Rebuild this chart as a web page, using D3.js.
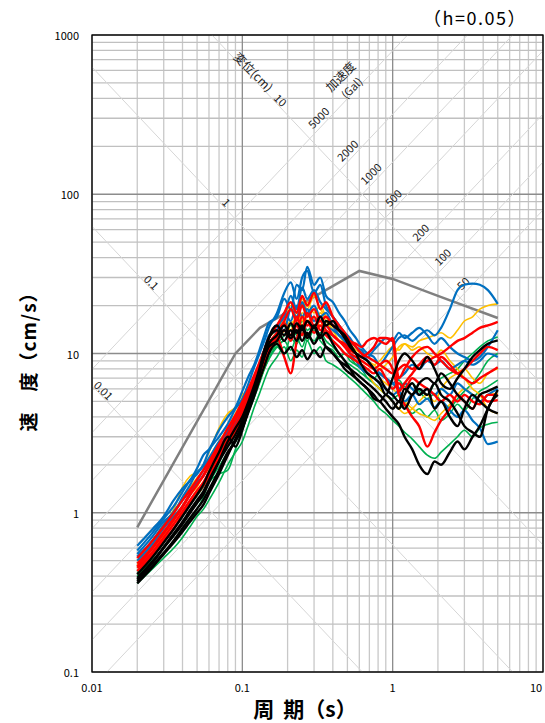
<!DOCTYPE html>
<html><head><meta charset="utf-8">
<script src="https://cdn.jsdelivr.net/npm/d3@7"></script>
<style>body{margin:0;background:#fff;}svg{display:block;font-family:"Noto Sans CJK JP","Noto Sans",sans-serif;}</style>
</head><body><svg id="c" width="545" height="723"></svg>
<script>
// ---------- data ----------
const periods=[0.02,0.025,0.03,0.035,0.04,0.045,0.05,0.055,0.06,0.07,
0.08,0.09,0.1,0.11,0.12,0.13,0.14,0.15,0.17,0.19,
0.21,0.23,0.25,0.27,0.3,0.33,0.36,0.4,0.44,0.48,
0.52,0.57,0.62,0.68,0.75,0.82,0.9,1.0,1.1,1.2,
1.35,1.5,1.7,1.9,2.1,2.4,2.7,3.0,3.4,3.8,
4.3,5.0];

const blue1=[0.62,0.78,0.95,1.20,1.42,1.60,1.90,2.30,2.50,3.30,
4.00,4.60,5.80,7.20,8.50,10.5,13.0,15.5,17.0,22.0,
19.0,27.0,25.0,35.0,27.0,30.0,23.0,21.0,18.0,16.0,
14.0,12.5,11.0,10.0,9.5,8.5,9.5,11.0,12.5,13.0,
12.0,13.0,14.0,13.0,14.5,19.0,25.0,27.0,27.5,27.0,
25.0,20.5];
const blue2=[0.58,0.74,0.92,1.10,1.35,1.60,1.75,2.00,2.45,3.00,
3.60,4.50,5.20,6.50,8.20,10.0,12.0,14.5,18.0,24.0,
28.0,22.0,30.0,33.0,24.0,27.0,20.0,17.0,15.0,13.5,
12.5,11.0,10.5,9.5,10.5,11.5,12.5,12.0,13.5,12.5,
13.5,14.5,13.0,11.5,12.5,11.0,10.0,9.5,9.0,9.5,
11.0,14.0];
const blue3=[0.53,0.66,0.84,1.02,1.20,1.38,1.60,1.85,2.10,2.70,
3.30,4.00,4.80,5.80,7.00,8.50,10.5,12.5,15.0,14.0,
19.0,17.0,21.0,18.0,20.0,17.0,18.0,15.0,13.0,12.0,
11.0,10.0,9.5,9.0,8.0,7.5,7.0,6.5,7.0,7.5,
8.5,8.0,9.0,8.5,9.0,8.0,8.5,9.0,8.5,9.0,
10.0,9.5];
const blue4=[0.55,0.70,0.88,1.00,1.25,1.50,1.80,1.95,2.20,2.80,
3.20,3.90,4.50,5.60,7.00,8.60,10.5,13.0,14.0,18.0,
16.0,20.0,17.0,19.0,16.0,17.0,15.0,14.0,13.0,12.0,
10.0,9.0,8.0,7.5,7.0,6.5,6.0,5.5,5.8,5.0,
5.5,4.8,5.2,4.6,5.0,4.4,4.0,4.4,3.8,3.4,
2.7,2.8];
const blue5=[0.50,0.63,0.80,0.95,1.10,1.30,1.55,1.70,2.00,2.55,
3.10,3.60,4.40,5.40,6.80,8.50,10.5,12.5,15.0,17.0,
23.0,19.0,26.0,22.0,25.0,21.0,19.0,17.0,15.0,13.0,
12.0,11.0,10.0,9.0,8.0,7.5,7.0,6.5,6.0,6.5,
6.0,5.5,6.0,5.5,6.0,5.5,6.5,6.0,5.5,5.0,
5.5,6.0];

const yellow1=[0.50,0.66,0.85,1.05,1.45,1.70,1.80,2.00,2.40,3.40,
4.20,4.60,5.50,6.00,7.20,8.80,10.5,12.5,14.0,17.0,
20.0,18.0,22.0,19.0,23.0,19.0,17.0,15.0,14.0,12.5,
11.5,10.5,10.0,9.0,8.5,8.0,8.5,9.5,11.0,11.5,
11.0,12.0,12.5,13.0,13.5,12.5,14.0,16.0,17.0,19.0,
20.0,20.5];
const yellow2=[0.47,0.60,0.75,0.90,1.08,1.30,1.45,1.70,1.90,2.40,
3.00,3.50,4.20,5.00,6.00,7.50,9.00,11.0,13.0,15.0,
13.0,17.0,15.0,19.0,16.0,18.0,16.0,14.0,13.0,12.0,
11.0,10.0,9.0,8.5,8.0,7.0,6.5,6.0,5.5,5.0,
4.5,4.2,4.0,3.8,4.2,4.8,5.5,6.0,5.5,5.0,
5.5,5.6];
const yellow3=[0.45,0.56,0.72,0.86,1.00,1.20,1.35,1.50,1.75,2.20,
2.70,3.20,3.90,4.60,5.60,6.80,8.20,10.0,12.0,14.0,
16.0,15.0,18.0,16.0,17.0,15.0,16.0,14.0,12.0,11.0,
10.5,10.0,9.5,9.0,8.5,9.0,10.0,11.0,10.5,11.5,
10.5,11.0,10.0,9.5,10.5,9.0,8.0,7.0,6.0,5.5,
4.5,4.2];
const yellow4=[0.48,0.62,0.80,0.98,1.20,1.45,1.65,1.85,2.20,2.80,
3.40,4.20,5.00,5.80,6.80,8.00,9.50,11.5,13.0,16.0,
14.0,18.0,16.0,21.0,18.0,20.0,17.0,15.0,13.0,11.5,
10.0,9.0,8.0,7.5,6.5,6.0,5.5,5.0,4.5,4.2,
4.5,5.0,5.5,5.0,6.0,7.0,7.5,8.0,7.0,6.5,
7.5,8.0];

const green1=[0.38,0.46,0.56,0.66,0.78,0.90,1.05,1.25,1.55,1.75,
1.85,2.50,3.30,4.30,5.30,6.50,8.00,9.20,11.0,12.0,
10.5,12.5,11.0,13.0,12.0,13.5,12.0,11.0,10.0,9.0,
8.5,8.0,7.5,7.0,6.5,6.0,5.5,5.2,5.5,5.0,
5.5,6.0,5.5,6.5,7.0,7.5,8.0,9.0,10.0,11.0,
12.0,12.7];
const green2=[0.36,0.44,0.52,0.60,0.70,0.82,0.95,1.05,1.20,1.55,
2.00,2.40,2.80,3.60,4.60,5.60,6.80,8.00,9.50,11.0,
9.0,10.5,9.5,12.0,10.0,11.0,9.0,8.5,8.0,7.5,
7.0,6.5,6.0,5.5,5.0,4.5,4.2,3.8,3.5,3.2,
2.9,2.6,2.3,2.2,2.4,2.7,3.0,3.3,3.0,3.4,
3.6,3.7];
const green3=[0.42,0.53,0.66,0.80,0.95,1.12,1.28,1.45,1.70,2.20,
2.70,3.20,3.80,4.70,5.70,7.00,8.30,9.80,11.5,13.0,
15.0,13.0,16.0,14.0,15.0,13.0,14.0,12.0,11.0,10.0,
9.5,8.5,8.0,7.0,6.5,6.0,5.5,5.0,4.5,4.8,
4.2,4.5,4.0,4.4,3.8,4.2,4.8,4.4,5.2,5.8,
6.2,6.8];
const green4=[0.40,0.50,0.60,0.72,0.85,1.00,1.15,1.32,1.55,1.95,
2.40,2.90,3.50,4.40,5.40,6.60,8.00,9.30,11.0,10.0,
12.5,11.5,13.5,12.0,14.0,12.0,11.0,10.5,9.5,10.0,
9.0,8.5,8.0,7.5,7.0,7.5,7.0,6.5,6.8,6.2,
6.5,5.8,5.2,5.6,5.0,4.6,5.2,5.8,6.5,7.5,
9.0,10.0];

const red1=[0.52,0.66,0.82,1.00,1.20,1.40,1.62,1.85,2.10,2.70,
3.40,4.10,5.00,6.00,7.30,8.80,10.5,12.5,15.0,18.0,
21.0,18.0,23.0,20.0,24.0,19.0,21.0,17.0,15.0,13.5,
12.0,11.0,10.0,9.5,9.0,8.5,8.0,7.5,8.0,8.5,
8.0,8.5,9.0,9.5,10.0,11.0,12.0,12.5,13.5,14.5,
15.0,15.8];
const red2=[0.48,0.60,0.76,0.92,1.10,1.32,1.50,1.72,2.00,2.55,
3.10,3.90,4.70,5.70,6.90,8.30,10.0,11.5,12.5,9.5,
7.5,12.0,17.0,15.0,17.0,14.0,15.0,13.0,12.0,11.5,
10.5,10.0,9.5,10.0,11.0,12.5,12.5,12.0,5.8,6.5,
7.5,8.5,9.5,8.5,9.5,8.5,7.5,7.0,6.5,7.0,
7.5,8.2];
const red3=[0.45,0.56,0.70,0.85,1.02,1.20,1.38,1.55,1.80,2.30,
2.90,3.50,4.30,5.20,6.30,7.70,9.20,11.0,13.0,15.5,
13.0,17.0,14.0,18.0,15.0,16.0,14.0,13.0,12.0,11.0,
10.0,9.5,9.0,8.5,8.0,8.5,9.0,8.0,5.5,4.8,
4.0,3.5,2.6,3.2,3.8,4.5,5.5,5.0,4.5,5.5,
5.0,5.1];
const red4=[0.46,0.59,0.74,0.90,1.08,1.30,1.50,1.70,1.95,2.50,
3.10,3.80,4.60,5.60,6.80,8.20,9.80,11.5,13.5,16.0,
19.0,16.0,20.0,17.0,19.0,16.0,17.0,15.0,14.0,13.0,
12.0,11.5,11.0,12.0,12.5,12.0,11.5,12.5,7.0,8.0,
9.5,10.5,11.0,10.0,9.0,8.0,7.5,8.0,9.0,10.0,
11.0,10.5];
const red5=[0.43,0.54,0.67,0.80,0.97,1.15,1.30,1.48,1.70,2.20,
2.75,3.30,4.10,5.00,6.10,7.40,8.80,10.5,12.5,14.0,
12.0,15.0,13.0,16.0,13.5,15.0,13.0,12.0,11.0,10.0,
9.5,9.0,8.5,8.0,7.5,8.0,7.0,6.0,6.5,6.0,
7.0,6.5,6.0,5.5,5.0,5.5,5.0,5.5,5.0,4.8,
5.5,5.5];

const black1=[0.36,0.45,0.55,0.65,0.76,0.88,1.00,1.12,1.32,1.75,
2.30,2.90,3.60,4.50,5.80,7.50,9.80,12.5,15.0,13.0,
15.5,13.5,15.0,13.0,14.5,12.5,13.5,11.5,10.0,9.0,
8.0,7.0,6.5,6.0,5.2,5.0,4.5,4.0,3.6,3.0,
2.5,2.0,1.75,2.1,2.0,2.4,2.8,2.5,3.0,3.5,
4.5,5.9];
const black2=[0.38,0.48,0.60,0.72,0.85,1.00,1.15,1.30,1.55,2.10,
2.80,3.40,4.00,5.00,6.30,8.00,10.5,12.5,14.0,12.0,
14.0,12.0,14.5,12.5,15.0,13.0,16.0,15.0,14.0,13.0,
11.5,10.0,8.5,7.5,7.0,6.5,5.5,7.0,9.0,10.0,
9.0,8.0,9.5,8.0,6.5,6.0,7.0,8.0,9.5,10.5,
11.5,12.1];
const black3=[0.37,0.46,0.56,0.67,0.80,0.93,1.06,1.20,1.40,1.85,
2.40,2.80,3.40,4.30,5.40,6.80,8.30,10.0,11.5,10.0,
11.0,9.5,10.5,9.2,10.5,9.5,11.0,10.0,9.0,8.0,
7.5,7.0,6.5,6.0,5.5,5.0,5.5,5.0,4.5,5.5,
6.5,5.5,6.0,4.5,5.0,4.0,3.5,4.5,5.5,5.0,
4.5,4.2];
const black4=[0.39,0.49,0.61,0.74,0.88,1.04,1.20,1.36,1.60,2.10,
2.60,3.10,3.80,4.80,6.00,7.50,9.50,11.5,13.0,15.0,
13.0,15.5,14.0,16.0,14.5,17.0,15.0,16.0,14.0,12.5,
11.0,10.0,9.5,9.0,8.0,7.0,6.0,5.5,5.0,6.0,
5.5,6.5,7.0,6.5,7.5,6.5,5.5,5.0,4.5,5.5,
5.8,6.2];
const black5=[0.41,0.52,0.65,0.79,0.95,1.12,1.30,1.50,1.80,2.40,
3.00,2.60,3.30,4.50,6.00,7.80,9.50,11.0,12.0,14.0,
12.5,14.0,12.0,13.5,11.5,13.0,11.0,10.0,9.0,8.5,
8.0,7.5,7.0,6.5,6.0,5.5,5.0,4.5,5.0,4.5,
5.5,6.0,5.5,6.5,5.5,5.0,4.2,3.5,3.2,3.0,
4.5,5.5];

// design (gray) spectrum
const designT=[0.02,0.09,0.131,0.6,1.0,2.0,5.0];
const designV=[0.81,10.0,14.5,33.0,29.4,23.0,16.7];

// tripartite guide lines
const accelLines=[50,100,200,500,1000,2000,5000];
const accelLabelT=[3.2,2.34,1.67,1.1,0.78,0.545,0.35];
const dispLines=[0.01,0.1,1,10];
const dispLabelT=[0.0113,0.0236,0.0744,0.17];

const xTickVals=[0.01,0.1,1,10];
const xTickText=["0.01","0.1","1","10"];
const yTickVals=[0.1,1,10,100,1000];
const yTickText=["0.1","1","10","100","1000"];

// ---------- drawing ----------
const svg=d3.select("#c");
const L=92,R=543,T=35,B=672;
const x=d3.scaleLog().domain([0.01,10]).range([L,R]);
const y=d3.scaleLog().domain([0.1,1000]).range([B,T]);
const TWO_PI=2*Math.PI;

svg.append("defs").append("clipPath").attr("id","clip")
  .append("rect").attr("x",L).attr("y",T).attr("width",R-L).attr("height",B-T);

const isMajor=v=>Math.abs(Math.log10(v)-Math.round(Math.log10(v)))<1e-9;
const grid=svg.append("g");
x.ticks().filter(v=>!isMajor(v)).forEach(v=>{
  grid.append("line").attr("x1",x(v)).attr("x2",x(v)).attr("y1",T).attr("y2",B)
   .attr("stroke","#c8c8c8").attr("stroke-width",1.3);
});
y.ticks().filter(v=>!isMajor(v)).forEach(v=>{
  grid.append("line").attr("y1",y(v)).attr("y2",y(v)).attr("x1",L).attr("x2",R)
   .attr("stroke","#c0c0c0").attr("stroke-width",1.3);
});
const diag=svg.append("g").attr("clip-path","url(#clip)");
accelLines.forEach(A=>{
  diag.append("line").attr("x1",x(0.01)).attr("y1",y(A*0.01/TWO_PI))
   .attr("x2",x(10)).attr("y2",y(A*10/TWO_PI))
   .attr("stroke","#d6d6d6").attr("stroke-width",1);
});
dispLines.forEach(D=>{
  diag.append("line").attr("x1",x(0.01)).attr("y1",y(TWO_PI*D/0.01))
   .attr("x2",x(10)).attr("y2",y(TWO_PI*D/10))
   .attr("stroke","#d6d6d6").attr("stroke-width",1);
});
x.ticks().filter(isMajor).forEach(v=>{
  grid.append("line").attr("x1",x(v)).attr("x2",x(v)).attr("y1",T).attr("y2",B)
   .attr("stroke","#8c8c8c").attr("stroke-width",1.3);
});
y.ticks().filter(isMajor).forEach(v=>{
  grid.append("line").attr("y1",y(v)).attr("y2",y(v)).attr("x1",L).attr("x2",R)
   .attr("stroke","#8c8c8c").attr("stroke-width",1.3);
});

// diagonal labels
const lab=svg.append("g").attr("font-size",11).attr("fill","#222");
accelLines.forEach((A,i)=>{
  const t=accelLabelT[i], px=x(t)-6, py=y(A*t/TWO_PI)-6;
  lab.append("text").attr("transform",`translate(${px},${py}) rotate(-45)`)
    .attr("text-anchor","middle").attr("dominant-baseline","central").text(String(A));
});
dispLines.forEach((D,i)=>{
  const t=dispLabelT[i], px=x(t)+4, py=y(TWO_PI*D/t)-4;
  lab.append("text").attr("transform",`translate(${px},${py}) rotate(45)`)
    .attr("text-anchor","middle").attr("dominant-baseline","central").text(String(D));
});
{
  const t=0.1125, px=x(t)+4, py=y(TWO_PI*10/t)-4;
  lab.append("text").attr("transform",`translate(${px},${py}) rotate(45)`)
    .attr("text-anchor","middle").attr("dominant-baseline","central").attr("font-size",12).text("変位(cm)");
  const t2=0.56, A=5000;
  const gx=x(t2), gy=y(A*t2/TWO_PI);
  lab.append("text").attr("transform",`translate(${gx-15},${gy-15}) rotate(-45)`)
    .attr("text-anchor","middle").attr("dominant-baseline","central").attr("font-size",12).text("加速度");
  lab.append("text").attr("transform",`translate(${gx-3.5},${gy-3.5}) rotate(-45)`)
    .attr("text-anchor","middle").attr("dominant-baseline","central").attr("font-size",11).text("(Gal)");
}

// design spectrum
const line=d3.line().x(d=>x(d[0])).y(d=>y(d[1]));
svg.append("path").attr("d",line(designT.map((t,i)=>[t,designV[i]])))
  .attr("fill","none").attr("stroke","#808080").attr("stroke-width",2.5);

// spectra
const series=[
 {c:"#00B050",w:1.6,v:green1},{c:"#00B050",w:1.6,v:green2},{c:"#00B050",w:1.6,v:green3},{c:"#00B050",w:1.6,v:green4},
 {c:"#FFC000",w:1.6,v:yellow1},{c:"#FFC000",w:1.6,v:yellow2},{c:"#FFC000",w:1.6,v:yellow3},{c:"#FFC000",w:1.6,v:yellow4},
 {c:"#0070C0",w:2.2,v:blue1},{c:"#0070C0",w:2.2,v:blue2},{c:"#0070C0",w:2.2,v:blue3},{c:"#0070C0",w:2.2,v:blue4},{c:"#0070C0",w:2.2,v:blue5},
 {c:"#FF0000",w:2.4,v:red1},{c:"#FF0000",w:2.4,v:red2},{c:"#FF0000",w:2.4,v:red3},{c:"#FF0000",w:2.4,v:red4},{c:"#FF0000",w:2.4,v:red5},
 {c:"#000000",w:2.4,v:black1},{c:"#000000",w:2.4,v:black2},{c:"#000000",w:2.4,v:black3},{c:"#000000",w:2.4,v:black4},{c:"#000000",w:2.4,v:black5}
];
const sline=d3.line().x(d=>x(d[0])).y(d=>y(d[1])).curve(d3.curveMonotoneX);
const sg=svg.append("g").attr("clip-path","url(#clip)");
series.forEach(s=>{
  sg.append("path").attr("d",sline(periods.map((p,i)=>[p,s.v[i]])))
   .attr("fill","none").attr("stroke",s.c).attr("stroke-width",s.w).attr("stroke-linejoin","round");
});

// frame
svg.append("rect").attr("x",L).attr("y",T).attr("width",R-L).attr("height",B-T)
  .attr("fill","none").attr("stroke","#000").attr("stroke-width",1.3);

// tick labels
const tl=svg.append("g").attr("font-size",11).attr("fill","#000");
xTickVals.forEach((v,i)=>tl.append("text").attr("x",Math.min(x(v),536)).attr("y",B+20).attr("text-anchor","middle").text(xTickText[i]));
yTickVals.forEach((v,i)=>tl.append("text").attr("x",L-13).attr("y",y(v)).attr("text-anchor","end").attr("dominant-baseline","central").text(yTickText[i]));

// titles
const xt=svg.append("text").attr("x",305).attr("y",717).attr("text-anchor","middle").attr("font-size",21).attr("font-weight","bold");
xt.append("tspan").text("周");
xt.append("tspan").attr("dx",9).text("期（s）");
svg.append("text").attr("transform","translate(36,357) rotate(-90)").attr("text-anchor","middle").attr("font-size",19).attr("font-weight","bold").attr("letter-spacing",1).text("速　度（cm/s）");
svg.append("text").attr("x",475).attr("y",25).attr("text-anchor","middle").attr("font-size",18).attr("letter-spacing",1.5).text("（h=0.05）");
</script></body></html>
